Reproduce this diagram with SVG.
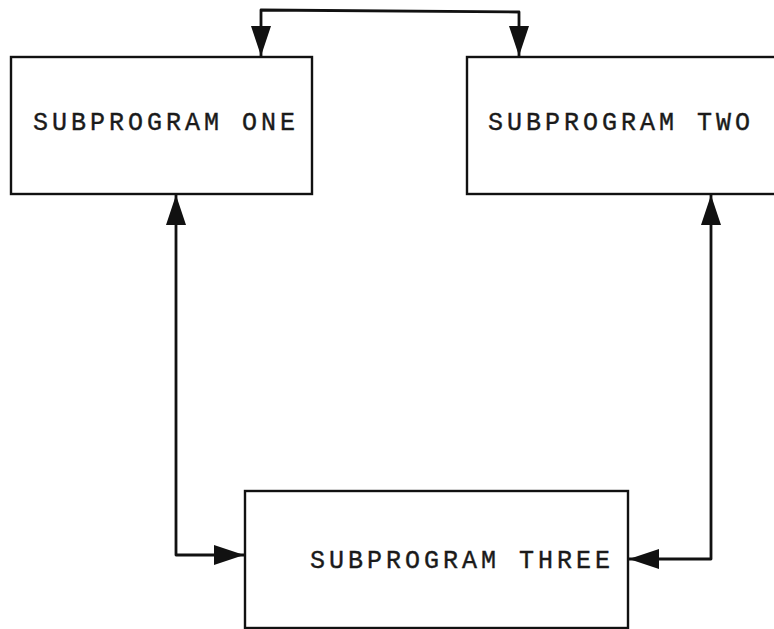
<svg xmlns="http://www.w3.org/2000/svg" width="774" height="629" viewBox="0 0 774 629">
  <style>
    .box { fill: #ffffff; stroke: #111111; stroke-width: 2.4; }
    .label { font-family: "Liberation Mono", "DejaVu Sans Mono", monospace; font-size: 25px; letter-spacing: 4px; fill: #1a1a1a; stroke: #1a1a1a; stroke-width: 0.4; }
    .wire { fill: none; stroke: #111111; stroke-width: 2.8; stroke-linejoin: round; }
  </style>
  <defs>
    <marker id="head" markerUnits="userSpaceOnUse" markerWidth="32" markerHeight="22" viewBox="0 0 32 22" refX="30" refY="11" orient="auto-start-reverse">
      <path d="M0,1 L30,11 L0,21 Z" fill="#111111"/>
    </marker>
  </defs>
  <rect width="774" height="629" fill="#ffffff"/>

  <g id="subprogram-one">
    <rect class="box" x="11" y="57" width="301" height="137"/>
    <text class="label" x="33" y="130">SUBPROGRAM ONE</text>
  </g>

  <g id="subprogram-two">
    <rect class="box" x="467" y="57" width="330" height="137"/>
    <text class="label" x="488" y="130">SUBPROGRAM TWO</text>
  </g>

  <g id="subprogram-three">
    <rect class="box" x="245" y="491" width="383" height="137"/>
    <text class="label" x="310" y="568">SUBPROGRAM THREE</text>
  </g>

  <g id="connectors">
    <path class="wire" d="M261,56 L261,10 L519,12 L519,56" marker-start="url(#head)" marker-end="url(#head)"/>
    <path class="wire" d="M176,195 L176,555 L244,555" marker-start="url(#head)" marker-end="url(#head)"/>
    <path class="wire" d="M711,195 L711,559 L629,559" marker-start="url(#head)" marker-end="url(#head)"/>
  </g>
</svg>
